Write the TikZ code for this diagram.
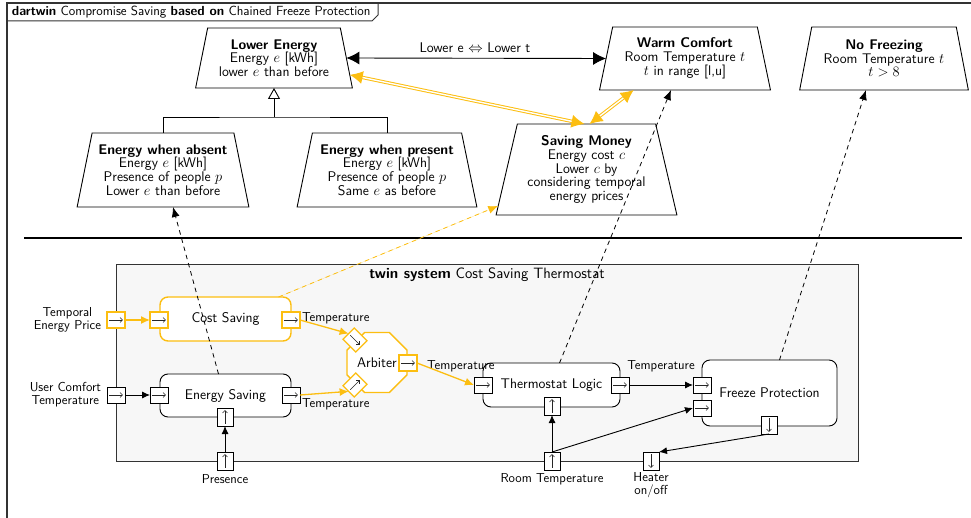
\documentclass[tikz,border=0pt]{standalone}
\usepackage{fontspec}
\renewcommand\familydefault{\sfdefault}
\usetikzlibrary{shapes.geometric,arrows.meta,calc}
\definecolor{ylw}{RGB}{252,190,17}
\definecolor{twfill}{RGB}{247,247,247}
\definecolor{frm}{RGB}{51,51,51}
\newcommand\gfont{\fontsize{14}{13.7}\selectfont}
\newcommand\lfont{\fontsize{13}{13}\selectfont}
\newcommand\parr[1]{\draw[parrow] ($(#1.west)!0.12!(#1.east)$) -- ($(#1.west)!0.88!(#1.east)$);}
\begin{document}
\begin{tikzpicture}[x=1pt,y=-1pt,
  every node/.style={inner sep=0pt, outer sep=0pt},
  goal/.style={draw, line width=0.9pt, trapezium, trapezium angle=75, trapezium stretches=true, align=center, font=\gfont},
  comp/.style={draw, line width=0.9pt, rounded corners=8pt, fill=white, font=\gfont},
  ycomp/.style={comp, draw=ylw, line width=1.4pt},
  port/.style={draw, line width=0.8pt, fill=white, minimum width=18pt, minimum height=16pt},
  yport/.style={port, draw=ylw, line width=1.3pt},
  parrow/.style={line width=0.45pt, black!85, -{Straight Barb[length=2.5pt,width=5pt]}},
  lbl/.style={font=\lfont, align=center},
  conn/.style={line width=0.9pt, -{Latex[length=8pt,width=7pt]}},
  yconn/.style={line width=1.3pt, draw=ylw, -{Latex[length=9pt,width=8pt]}},
  trace/.style={line width=0.8pt, dash pattern=on 4.5pt off 4pt, -{Latex[length=10pt,width=8pt]}},
  ydbl/.style={draw=ylw, line width=1pt, double=white, double distance=1.4pt,
     {Latex[length=13pt,width=13pt]}-{Latex[length=13pt,width=13pt]}},
]
\useasboundingbox (0,0) rectangle (971,518);
% frame
\draw[frm, line width=1.2pt] (7,518) -- (7,3) -- (971,3);
\draw[frm, line width=1pt] (7,21) -- (372,21) -- (378,15) -- (378,3);
\node[anchor=west, font=\fontsize{13.2}{13}\selectfont] (ttl) at (12,12.5) {\textbf{dartwin} Compromise Saving \textbf{based on} Chained Freeze Protection};
% separator
\draw[line width=2.6pt] (24,238) -- (962,238);

% goals
\node[goal, minimum width=157pt, minimum height=60pt] (le) at (274,58) {\textbf{Lower Energy}\\Energy $e$ [kWh]\\lower $e$ than before};
\node[goal, minimum width=171pt, minimum height=63pt] (wc) at (685,58.5) {\textbf{Warm Comfort}\\Room Temperature $t$\\$t$ in range [l,u]};
\node[goal, minimum width=169pt, minimum height=63pt] (nf) at (884,58.5) {\textbf{No Freezing}\\Room Temperature $t$\\$t > 8$};
\node[goal, minimum width=181pt, minimum height=91pt] (sm) at (586.5,169.5) {\textbf{Saving Money}\\Energy cost $c$\\Lower $c$ by\\considering temporal\\energy prices};
\node[goal, minimum width=172pt, minimum height=74pt] (ea) at (163,170) {\textbf{Energy when absent}\\Energy $e$ [kWh]\\Presence of people $p$\\Lower $e$ than before};
\node[goal, minimum width=180pt, minimum height=74pt] (ep) at (387,170) {\textbf{Energy when present}\\Energy $e$ [kWh]\\Presence of people $p$\\Same $e$ as before};

% refinement tree
\coordinate (tj) at (274,117);
\draw[line width=0.9pt, -{Triangle[open, length=11pt, width=12pt]}] (tj) -- (le.bottom side);
\draw[line width=0.9pt] (ea.top side) |- (tj) -| (ep.top side);

% goal relations
\draw[line width=0.9pt, {Latex[length=13pt,width=13pt]}-{Latex[length=13pt,width=13pt]}] (le.east) -- (wc.west);
\node[font=\gfont] (lel) at (475,48) {Lower e $\Leftrightarrow$ Lower t};
\draw[ydbl] ($(le.bottom right corner)!0.22!(le.top right corner)$) -- ([xshift=-2pt]sm.top side);
\draw[ydbl] ([xshift=3pt]sm.top side) -- ($(wc.bottom left corner)!0.2!(wc.bottom right corner)$);

% twin system
\node[draw, frm, fill=twfill, line width=0.9pt, minimum width=742pt, minimum height=197pt] (tw) at (487,362.5) {};
\node[font=\fontsize{15}{15}\selectfont] (twl) at (487,275) {\textbf{twin system} Cost Saving Thermostat};

% components
\node[ycomp, minimum width=131pt, minimum height=44pt] (cs) at (225.5,319) {Cost Saving};
\node[comp, minimum width=131pt, minimum height=43pt] (es) at (225.5,395.5) {Energy Saving};
\node[comp, minimum width=137pt, minimum height=44pt] (tl) at (551.5,385) {Thermostat Logic};
\node[comp, minimum width=135pt, minimum height=66pt] (fp) at (769.5,393) {Freeze Protection};
\node[draw=ylw, line width=1.4pt, fill=white, regular polygon, regular polygon sides=8, minimum size=65pt, font=\gfont] (arb) at (377,362.5) {Arbiter};

% ports
\node[yport] (tep) at (116,320) {};
\node[yport] (csin) at (159,320) {};
\node[yport] (csout) at (291,320) {};
\node[port] (ucp) at (116,395) {};
\node[port] (esin) at (159,395) {};
\node[port] (esout) at (291,395) {};
\node[port, rotate=90] (esb) at (225,417) {};
\node[port, rotate=90] (prp) at (225,461) {};
\node[yport, rotate=-45] (arb1) at (355,340) {};
\node[yport, rotate=45] (arb2) at (355,385) {};
\node[yport] (arbout) at (408,363) {};
\node[port] (tlin) at (483,385) {};
\node[port] (tlout) at (620,385) {};
\node[port, rotate=90] (tlb) at (552,406) {};
\node[port] (fpin1) at (702,385) {};
\node[port] (fpin2) at (702,408) {};
\node[port, rotate=-90] (fpout) at (769,425) {};
\node[port, rotate=90] (rtp) at (552,461) {};
\node[port, rotate=-90] (htp) at (651,461) {};
\parr{tep}\parr{csin}\parr{csout}\parr{ucp}\parr{esin}\parr{esout}\parr{esb}\parr{prp}
\parr{arb1}\parr{arb2}\parr{arbout}\parr{tlin}\parr{tlout}\parr{tlb}\parr{fpin1}\parr{fpin2}
\parr{fpout}\parr{rtp}\parr{htp}

% labels
\node[lbl, anchor=east] (tepl) at (101,319.5) {Temporal\\Energy Price};
\node[lbl, anchor=east] (ucpl) at (101,394.5) {User Comfort\\Temperature};
\node[lbl, anchor=west] (t1) at (302,318) {Temperature};
\node[lbl, anchor=west] (t2) at (302,404) {Temperature};
\node[lbl, anchor=west] (t3) at (427,366) {Temperature};
\node[lbl] (t4) at (661,366) {Temperature};
\node[lbl] (prl) at (225,479) {Presence};
\node[lbl] (rtl) at (552,479) {Room Temperature};
\node[lbl] (htl) at (651,485.5) {Heater\\on/off};

% connectors
\draw[yconn] (tep.east) -- (csin.west);
\draw[conn] (ucp.east) -- (esin.west);
\draw[conn] (prp.east) -- (esb.west);
\draw[yconn] (csout.east) -- (arb1.west);
\draw[yconn] (esout.east) -- (arb2.west);
\draw[yconn] (arbout.east) -- (tlin.west);
\draw[conn] (tlout.east) -- (fpin1.west);
\draw[conn] (rtp.east) -- (tlb.west);
\draw[conn] (rtp.east) -- (fpin2.west);
\draw[conn] (fpout.east) -- (htp.north west);

% traces
\draw[trace] ([xshift=-7pt]es.north) -- ([xshift=10pt]ea.bottom side);
\draw[trace, draw=ylw, fill=ylw] ([xshift=53pt]cs.north) -- ($(sm.bottom left corner)!0.1!(sm.top left corner)$);
\draw[trace] ([xshift=8pt]tl.north) -- ([xshift=-14pt]wc.bottom side);
\draw[trace] ([xshift=10pt]fp.north) -- ([xshift=-18pt]nf.bottom side);
\end{tikzpicture}
\end{document}
